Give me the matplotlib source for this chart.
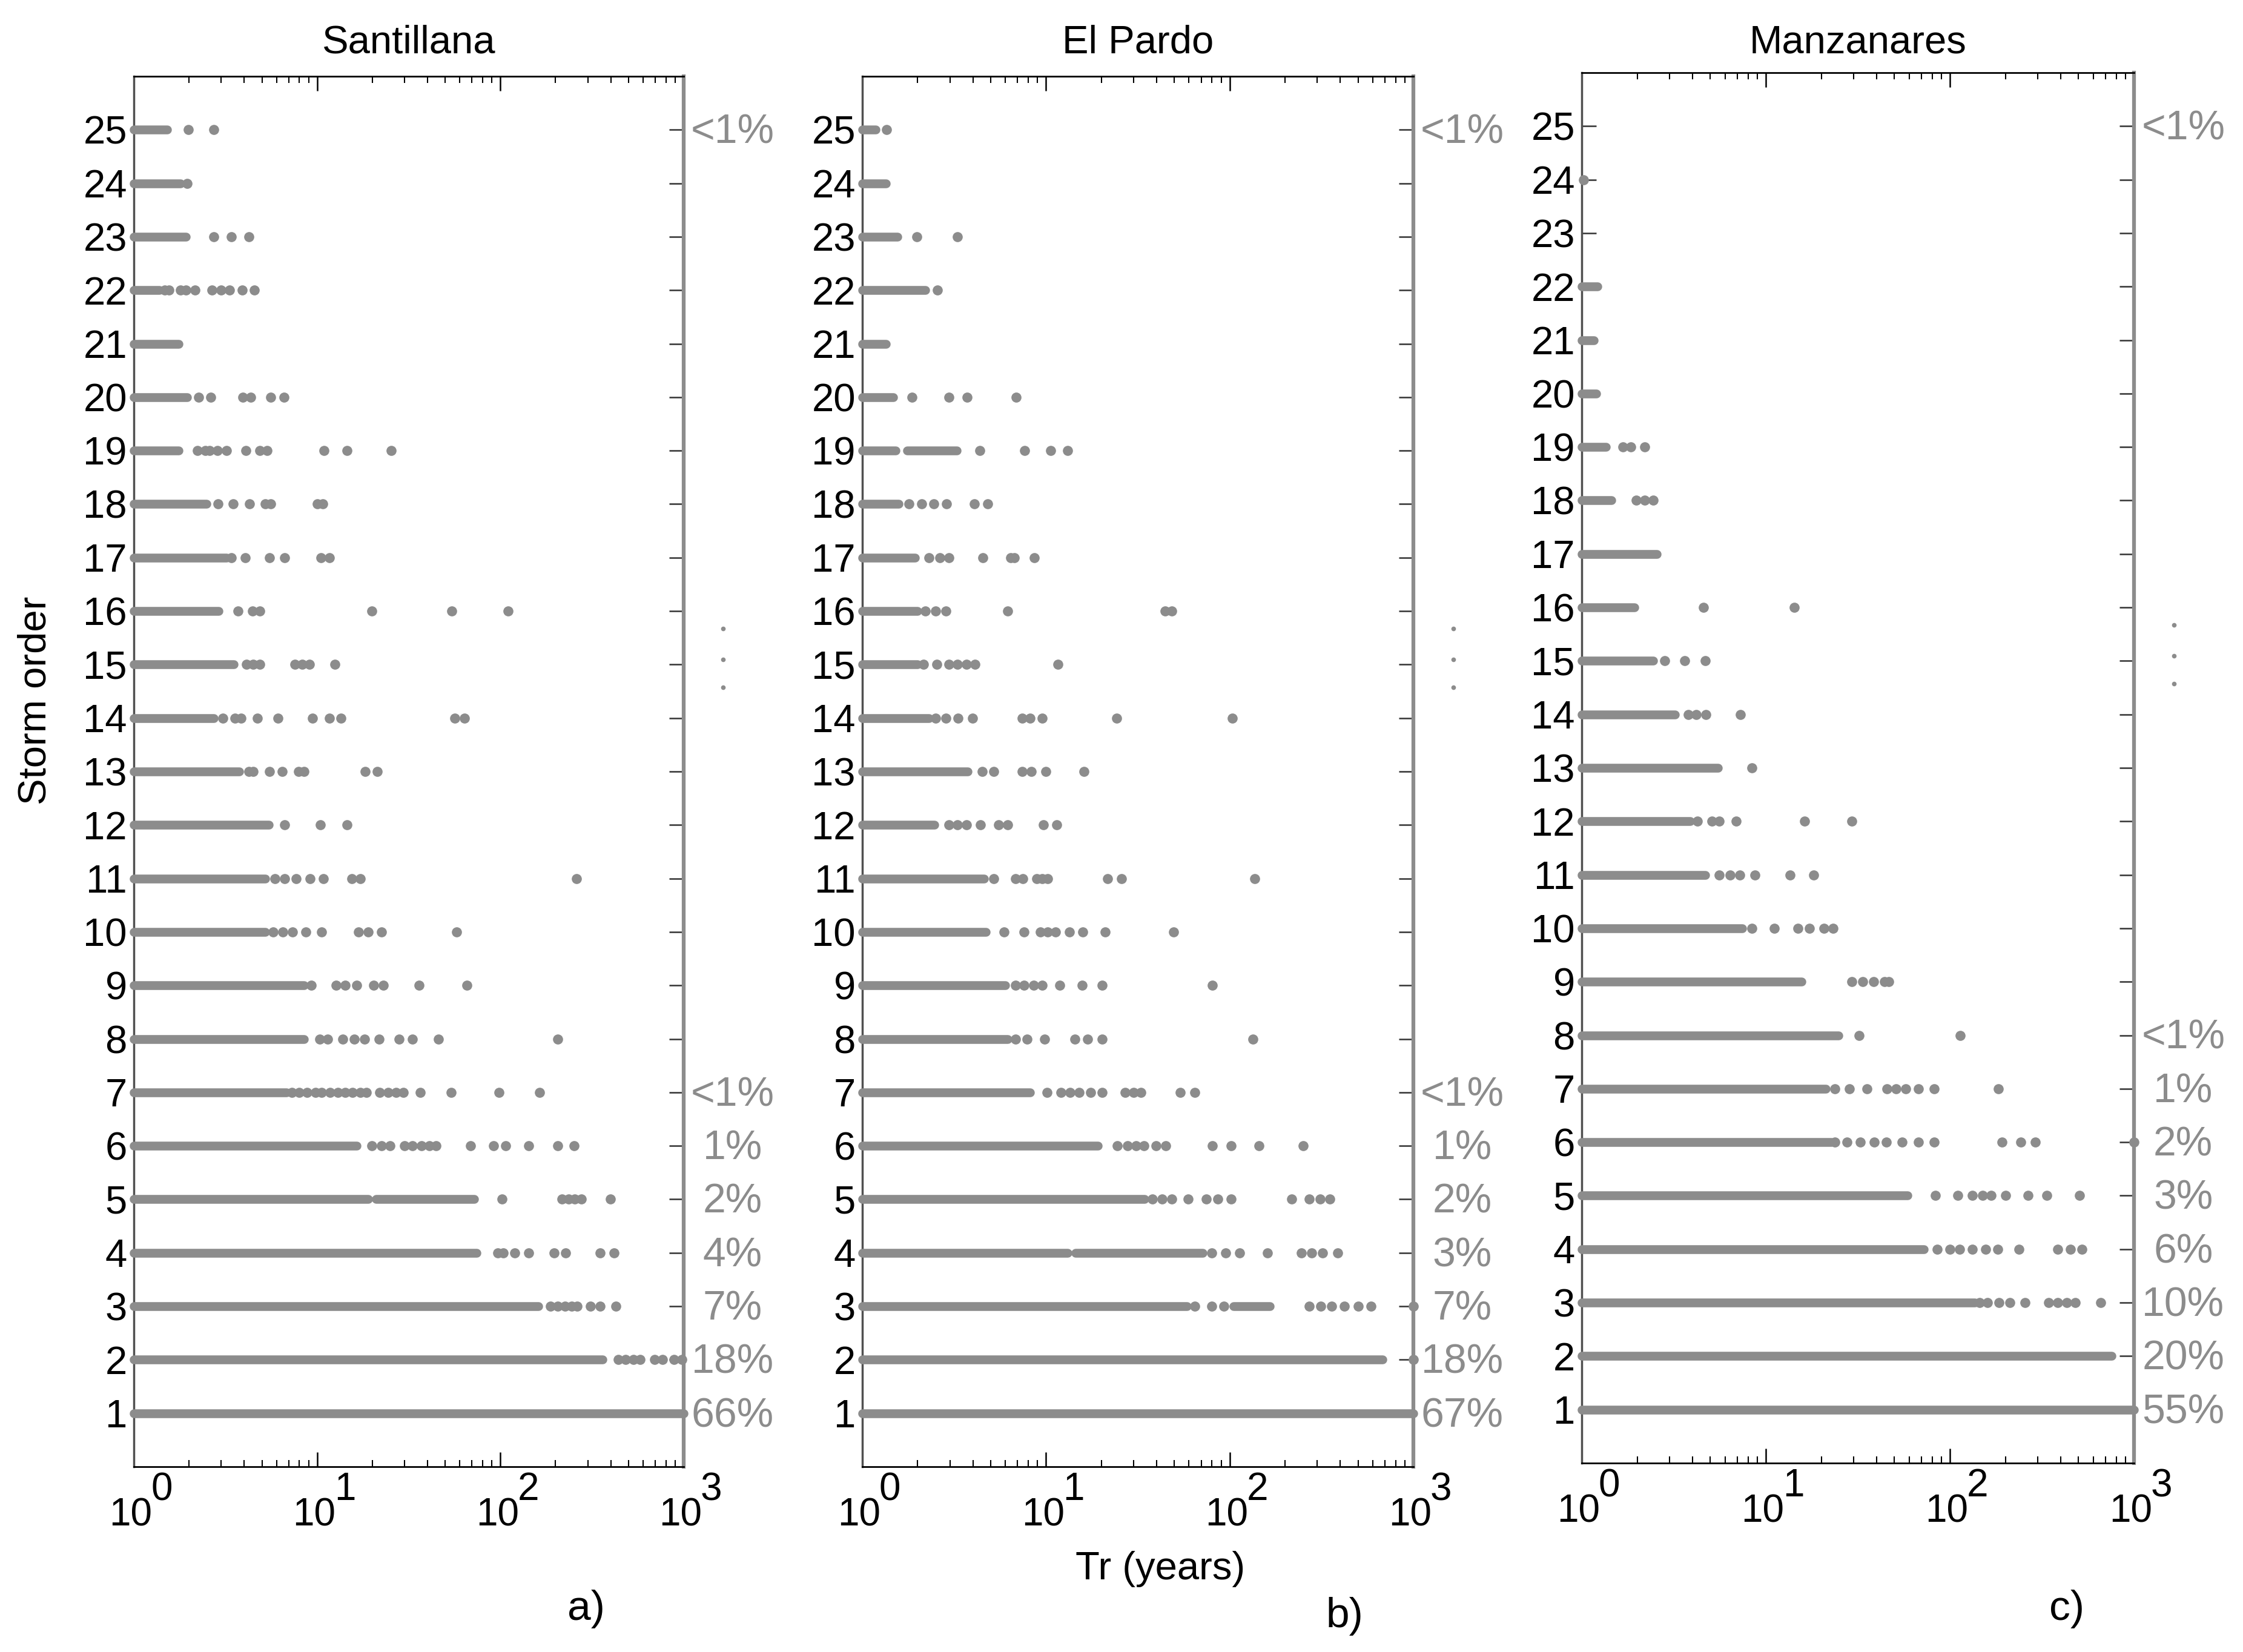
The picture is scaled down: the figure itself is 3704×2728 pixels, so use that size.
import matplotlib
matplotlib.use('Agg')
import matplotlib.pyplot as plt
from matplotlib.ticker import LogLocator, NullFormatter, FixedLocator

plt.rcParams['font.family'] = ['Liberation Sans', 'DejaVu Sans']

orders = list(range(1, 26))
titles = ['Santillana', 'El Pardo', 'Manzanares']
tags = ['a)', 'b)', 'c)']
decades = [1, 10, 100, 1000]

# solid run of dots from Tr=1 up to this value, rows 1..25 (None = no run)
santillana_run = [1000, 360, 161, 74, 19, 16.4, 6.8, 8.5, 8.5, 5.23, 5.23, 5.46, 3.76,
                  2.72, 3.51, 2.91, 3.2, 2.5, 1.75, 1.96, 1.75, 1.38, 1.92, 1.79, 1.52]
elpardo_run = [1000, 680, 58.7, 13.1, 34.4, 19.2, 8.2, 6.2, 6.0, 4.72, 4.6, 2.47, 3.76,
               2.31, 2.0, 2.0, 1.94, 1.58, 1.52, 1.47, 1.34, 2.2, 1.55, 1.34, 1.18]
manzanares_run = [1000, 757, 136, 72.4, 58.8, 22.7, 21.2, 24.9, 15.6, 7.44, 4.68, 3.88, 5.5,
                  3.22, 2.44, 1.93, 2.56, 1.45, 1.35, 1.2, 1.16, 1.22, None, None, None]

# extra solid stretches further out (row: [(from, to)])
santillana_more = {5: [(21, 72)]}
elpardo_more = {3: [(105, 166)], 4: [(14.5, 71)], 19: [(1.75, 3.27)]}
manzanares_more = {}

# isolated storms (row: Tr values)
santillana_pts = {
    25: [1.98, 2.72],
    24: [1.96],
    23: [2.74, 3.40, 4.23],
    22: [1.47, 1.56, 1.79, 1.92, 2.15, 2.66, 2.98, 3.32, 3.91, 4.53],
    20: [2.26, 2.63, 3.94, 4.33, 5.59, 6.58],
    19: [2.23, 2.45, 2.59, 2.85, 3.2, 4.1, 4.86, 5.34, 10.9, 14.5, 25.3],
    18: [2.87, 3.48, 4.29, 5.22, 5.59, 10.0, 10.7],
    17: [3.40, 4.04, 5.51, 6.67, 10.5, 11.7],
    16: [3.71, 4.43, 4.86, 19.9, 54.1, 110],
    15: [4.13, 4.49, 4.86, 7.56, 8.3, 9.1, 12.5],
    14: [3.05, 3.56, 3.85, 4.71, 6.13, 9.46, 11.7, 13.5, 56.4, 63.7],
    13: [4.23, 4.49, 5.51, 6.43, 7.92, 8.5, 18.3, 21.3],
    12: [6.67, 10.4, 14.5],
    11: [5.9, 6.67, 7.7, 9.15, 10.8, 15.5, 17.2, 260],
    10: [5.76, 6.5, 7.35, 8.7, 10.6, 16.8, 19.0, 22.5, 57.5],
    9: [9.3, 12.7, 14.2, 16.4, 20.4, 23.0, 36.1, 65.6],
    8: [10.3, 11.4, 13.8, 16.0, 18.1, 21.8, 28.0, 33.2, 46, 206],
    7: [7.3, 8.0, 8.8, 9.8, 10.6, 11.8, 13.0, 14.2, 15.6, 17.2, 18.5, 22, 24.5, 27,
        29.5, 36.6, 54, 98, 164],
    6: [19.9, 22.5, 25, 30, 33, 37, 41, 44.5, 68.9, 92, 107, 143, 206, 253],
    5: [102, 216, 235, 255, 276, 397],
    4: [97, 104, 120, 143, 196, 227, 351, 417],
    3: [187, 205, 225, 245, 262, 311, 351, 427],
    2: [440, 480, 530, 580, 695, 766, 885, 977],
}
elpardo_pts = {
    25: [1.35],
    23: [1.98, 3.30],
    22: [2.57],
    20: [1.87, 2.95, 3.72, 6.87],
    19: [4.35, 7.64, 10.6, 13.1],
    18: [1.8, 2.1, 2.45, 2.88, 4.06, 4.8],
    17: [2.3, 2.65, 2.95, 4.52, 6.4, 6.7, 8.66],
    16: [2.2, 2.5, 2.85, 6.2, 44.6, 48.2],
    15: [2.15, 2.55, 2.95, 3.3, 3.7, 4.1, 11.6],
    14: [2.5, 2.85, 3.31, 3.99, 7.4, 8.2, 9.5, 24.3, 103],
    13: [4.5, 5.2, 7.4, 8.3, 9.95, 16.1],
    12: [2.95, 3.3, 3.7, 4.4, 5.5, 6.2, 9.7, 11.4],
    11: [5.2, 6.8, 7.5, 8.9, 9.5, 10.2, 21.7, 25.7, 137],
    10: [5.9, 7.6, 9.3, 10.2, 11.3, 13.4, 15.8, 21, 49.5],
    9: [6.8, 7.6, 8.6, 9.5, 11.9, 15.7, 20.2, 80.4],
    8: [6.8, 7.9, 9.8, 14.4, 16.9, 20.2, 134],
    7: [10.1, 12.1, 13.5, 15.2, 17.5, 20.2, 27, 30, 32.8, 53.8, 64.7],
    6: [24.5, 27.7, 31, 34, 39.8, 45, 80.4, 102, 144, 251],
    5: [37.9, 43, 48.3, 59.3, 74.8, 86, 102, 217, 270, 310, 352],
    4: [80, 95, 113, 161, 245, 280, 320, 388],
    3: [64.7, 80, 93, 270, 313, 360, 420, 500, 587, 1000],
    2: [1000],
}
manzanares_pts = {
    24: [1.02],
    19: [1.68, 1.85, 2.2],
    18: [1.98, 2.2, 2.44],
    16: [4.57, 14.3],
    15: [2.83, 3.62, 4.68],
    14: [3.79, 4.2, 4.72, 7.3],
    13: [8.4],
    12: [4.26, 5.1, 5.6, 6.9, 16.2, 29.3],
    11: [5.6, 6.4, 7.2, 8.75, 13.5, 18.2],
    10: [8.4, 11.1, 14.9, 17.2, 20.7, 23.2],
    9: [29.3, 33.5, 38.5, 44, 46.6],
    8: [32.1, 114],
    7: [23.8, 28.5, 35.5, 45.5, 51, 57.4, 67.6, 82, 183],
    6: [23.8, 27.5, 32.5, 38.7, 45, 55, 67.6, 82, 192, 243, 290, 1000],
    5: [83.2, 110, 132, 150, 167, 201, 266, 336, 505],
    4: [85, 100, 113, 132, 156, 182, 237, 386, 450, 522],
    3: [145, 160, 185, 211, 256, 343, 386, 430, 480, 658],
}

# share of storms per order, written on the right
santillana_pct = {25: '<1%', 7: '<1%', 6: '1%', 5: '2%', 4: '4%', 3: '7%', 2: '18%', 1: '66%'}
elpardo_pct = {25: '<1%', 7: '<1%', 6: '1%', 5: '2%', 4: '3%', 3: '7%', 2: '18%', 1: '67%'}
manzanares_pct = {25: '<1%', 8: '<1%', 7: '1%', 6: '2%', 5: '3%', 4: '6%', 3: '10%',
                  2: '20%', 1: '55%'}

runs = [santillana_run, elpardo_run, manzanares_run]
more = [santillana_more, elpardo_more, manzanares_more]
pts = [santillana_pts, elpardo_pts, manzanares_pts]
pcts = [santillana_pct, elpardo_pct, manzanares_pct]

W, H = 3704, 2728
dot = '#8c8c8c'
fig = plt.figure(figsize=(W / 100, H / 100), dpi=100)

# axes boxes in pixels: left, top, right, bottom
boxes = [(221, 126, 1129, 2422), (1424, 126, 2334, 2422), (2612, 120, 3524, 2416)]

for k in range(3):
    l, t, r, b = boxes[k]
    ax = fig.add_axes([l / W, 1 - b / H, (r - l) / W, (b - t) / H])
    ax.set_xscale('log')
    ax.set_xlim(1, 1000)
    ax.set_ylim(0, 26)

    for i, row in enumerate(orders):
        end = runs[k][i]
        if end is not None:
            ax.plot([1, end], [row, row], color=dot, lw=10.5, solid_capstyle='round',
                    clip_on=False, zorder=3)
        for a0, a1 in more[k].get(row, []):
            ax.plot([a0, a1], [row, row], color=dot, lw=10.5, solid_capstyle='round',
                    clip_on=False, zorder=3)
        xs = pts[k].get(row, [])
        if xs:
            ax.plot(xs, [row] * len(xs), 'o', color=dot, ms=12, mew=0,
                    clip_on=False, zorder=3)

    ax.yaxis.set_major_locator(FixedLocator(orders))
    ax.set_yticklabels([str(o) for o in orders], fontsize=47)
    ax.tick_params(axis='y', which='both', direction='in', left=True, right=True,
                   length=17, width=1.8, color='#333333', pad=8)
    ax.tick_params(axis='y', which='minor', length=0)
    ax.xaxis.set_major_locator(FixedLocator(decades))
    ax.xaxis.set_minor_locator(LogLocator(base=10, subs=range(2, 10)))
    ax.xaxis.set_minor_formatter(NullFormatter())
    ax.set_xticklabels([''] * len(decades))
    ax.tick_params(axis='x', which='major', direction='in', top=True, bottom=True,
                   length=17, width=1.8, color='black')
    ax.tick_params(axis='x', which='minor', direction='in', top=True, bottom=True,
                   length=8, width=1.5, color='black')

    ax.spines['left'].set_color('#505050')
    ax.spines['left'].set_linewidth(2.5)
    ax.spines['right'].set_color(dot)
    ax.spines['right'].set_linewidth(4.5)
    for s in ['top', 'bottom']:
        ax.spines[s].set_color('black')
        ax.spines[s].set_linewidth(2)

    # MATLAB style 10^n labels with a full size exponent
    for e, d in enumerate(decades):
        ax.annotate('10', xy=(d, 0), xycoords=('data', 'axes fraction'),
                    xytext=(-5, -50), textcoords='offset pixels',
                    ha='center', va='top', fontsize=46)
        ax.annotate(str(e), xy=(d, 0), xycoords=('data', 'axes fraction'),
                    xytext=(28, -8), textcoords='offset pixels',
                    ha='left', va='top', fontsize=46)

    for row, txt in pcts[k].items():
        ax.text(1.089, row - 0.05, txt, transform=ax.get_yaxis_transform(),
                ha='center', va='center', fontsize=49, color=dot, clip_on=False)
    ax.plot([1.072] * 3, [15.67, 15.1, 14.57], 'o', color=dot, ms=5.5, mew=0,
            transform=ax.get_yaxis_transform(), clip_on=False)

    fig.text((l + r) / 2 / W, 1 - 71 / H, titles[k], ha='center', va='center',
             fontsize=47)

fig.text(59 / W, 1 - 1157 / H, 'Storm order', rotation=90, ha='center', va='center',
         fontsize=47)
fig.text(1916 / W, 1 - 2591 / H, 'Tr (years)', ha='center', va='center', fontsize=47)
for (x, y), tag in zip([(968, 2657), (2220, 2669), (3413, 2657)], tags):
    fig.text(x / W, 1 - y / H, tag, ha='center', va='center', fontsize=50)

fig.savefig('out.png', dpi=100, facecolor='white')
